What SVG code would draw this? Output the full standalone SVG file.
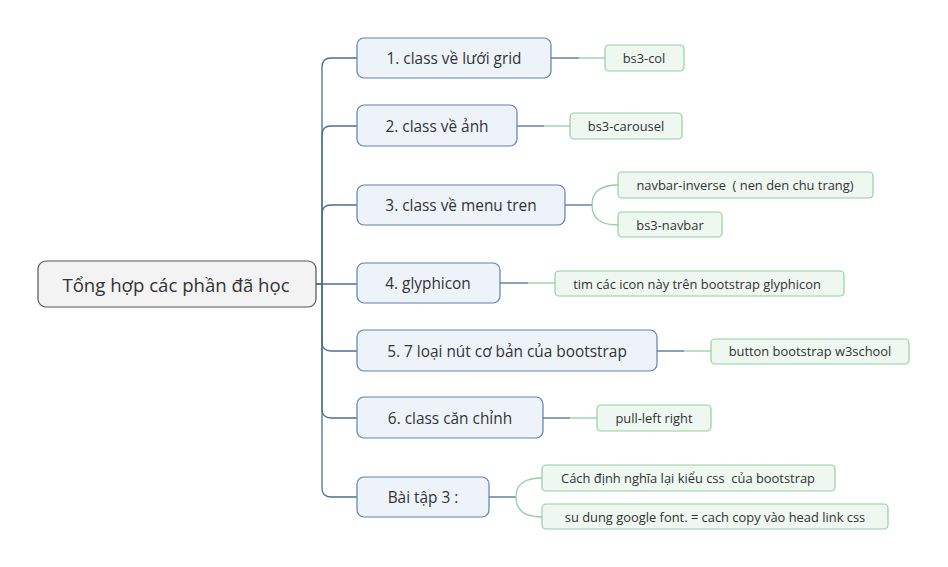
<svg xmlns="http://www.w3.org/2000/svg" width="948" height="567" viewBox="0 0 948 567">
<style>
text{font-family:"Open Sans","Noto Sans","DejaVu Sans",sans-serif;fill:#333;text-anchor:middle;dominant-baseline:central;white-space:pre}
.root rect{fill:#f3f3f3;stroke:#555;stroke-width:1.2}
.root text{font-size:18.6px}
.br rect{fill:#eef3fa;stroke:#5b82b4;stroke-width:1.2}
.br text{font-size:15.4px}
.lf rect{fill:#eef7f0;stroke:#93cfa2;stroke-width:1.2}
.lf text{font-size:12.9px}
.t{fill:none;stroke:#4d6e98;stroke-width:1.3}
.g{fill:none;stroke:#93cfa2;stroke-width:1.3}
</style>
<rect width="948" height="567" fill="#fff"/>
<g id="connectors">
<path class="t" d="M316 284H322V67Q322 58 331 58H357"/>
<path class="t" d="M322 284V135Q322 126 331 126H357"/>
<path class="t" d="M322 284V214Q322 205 331 205H357"/>
<path class="t" d="M316 284H357"/>
<path class="t" d="M322 284V342Q322 351 331 351H357"/>
<path class="t" d="M322 284V409Q322 418 331 418H357"/>
<path class="t" d="M322 284V488Q322 497 331 497H357"/>
<path class="t" d="M551 58H579"/><path class="g" d="M579 58H605"/>
<path class="t" d="M517 126H544"/><path class="g" d="M544 126H570"/>
<path class="t" d="M565 205H592"/><path class="g" d="M592 205C592 192 600 185 618 185M592 205C592 218 600 225 618 225"/>
<path class="t" d="M500 283H528"/><path class="g" d="M528 283H555"/>
<path class="t" d="M657 351H684"/><path class="g" d="M684 351H711"/>
<path class="t" d="M543 418H570"/><path class="g" d="M570 418H597"/>
<path class="t" d="M489 497H516"/><path class="g" d="M516 497C516 484 524 478 542 478M516 497C516 510 524 517 542 517"/>
</g>
<g id="root" class="root"><rect x="38" y="261" width="278" height="46" rx="8"/><text x="176" y="284">Tổng hợp các phần đã học</text></g>
<g id="b1" class="br"><rect x="357" y="38" width="194" height="40" rx="7"/><text x="454" y="58">1. class về lưới grid</text></g>
<g id="b2" class="br"><rect x="357" y="105" width="160" height="41" rx="7"/><text x="437" y="126">2. class về ảnh</text></g>
<g id="b3" class="br"><rect x="357" y="185" width="208" height="40" rx="7"/><text x="461" y="205">3. class về menu tren</text></g>
<g id="b4" class="br"><rect x="357" y="263" width="143" height="40" rx="7"/><text x="428" y="283">4. glyphicon</text></g>
<g id="b5" class="br"><rect x="357" y="330" width="300" height="41" rx="7"/><text x="507" y="351">5. 7 loại nút cơ bản của bootstrap</text></g>
<g id="b6" class="br"><rect x="357" y="397" width="186" height="41" rx="7"/><text x="450" y="418">6. class căn chỉnh</text></g>
<g id="b7" class="br"><rect x="357" y="477" width="132" height="40" rx="7"/><text x="423" y="497">Bài tập 3 :</text></g>
<g id="l1" class="lf"><rect x="605" y="45" width="79" height="26" rx="4"/><text x="644" y="58">bs3-col</text></g>
<g id="l2" class="lf"><rect x="570" y="113" width="112" height="26" rx="4"/><text x="626" y="126">bs3-carousel</text></g>
<g id="l3" class="lf"><rect x="618" y="172" width="255" height="26" rx="4"/><text x="745" y="185">navbar-inverse  ( nen den chu trang)</text></g>
<g id="l4" class="lf"><rect x="618" y="212" width="104" height="25" rx="4"/><text x="670" y="225">bs3-navbar</text></g>
<g id="l5" class="lf"><rect x="555" y="271" width="289" height="25" rx="4"/><text x="697" y="284">tim các icon này trên bootstrap glyphicon</text></g>
<g id="l6" class="lf"><rect x="711" y="339" width="198" height="25" rx="4"/><text x="810" y="351">button bootstrap w3school</text></g>
<g id="l7" class="lf"><rect x="597" y="405" width="114" height="26" rx="4"/><text x="654" y="418">pull-left right</text></g>
<g id="l8" class="lf"><rect x="542" y="465" width="293" height="26" rx="4"/><text x="688" y="478">Cách định nghĩa lại kiểu css  của bootstrap</text></g>
<g id="l9" class="lf"><rect x="542" y="504" width="346" height="25" rx="4"/><text x="715" y="517">su dung google font. = cach copy vào head link css</text></g>
</svg>
